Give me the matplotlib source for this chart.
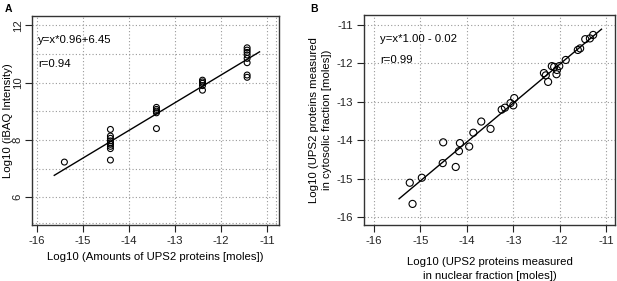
import numpy as np
import matplotlib
matplotlib.use("Agg")
import matplotlib.pyplot as plt

plt.rcParams['font.family'] = ['Liberation Sans', 'DejaVu Sans']

# ---- Panel A data ----
a_x = [-15.4,
       -14.4, -14.4, -14.4, -14.4, -14.4, -14.4, -14.4, -14.4, -14.4,
       -13.4, -13.4, -13.4, -13.4, -13.4,
       -12.4, -12.4, -12.4, -12.4, -12.4,
       -11.43, -11.43, -11.43, -11.43, -11.43, -11.43, -11.43, -11.43]
a_y = [7.23,
       8.37, 8.14, 8.06, 7.97, 7.90, 7.85, 7.78, 7.70, 7.30,
       9.14, 9.07, 9.01, 8.95, 8.40,
       10.09, 10.03, 9.98, 9.90, 9.74,
       11.22, 11.14, 11.06, 10.97, 10.85, 10.70, 10.27, 10.19]
a_line_range = [-15.62, -11.16]
a_xticks = [-16, -15, -14, -13, -12, -11]
a_yticks = [6, 8, 10, 12]
a_ygrid = [6, 7, 8, 9, 10, 11, 12]
a_eq = "y=x*0.96+6.45"
a_r = "r=0.94"

# ---- Panel B data ----
b_x = [-15.23, -15.17, -14.97, -14.52, -14.51, -14.24, -14.17, -14.15, -13.95,
       -13.86, -13.69, -13.49, -13.25, -13.18, -13.06, -13.00, -12.98, -12.34,
       -12.30, -12.25, -12.17, -12.12, -12.06, -12.07, -12.01, -11.87, -11.61,
       -11.56, -11.45, -11.35, -11.28]
b_y = [-15.10, -15.65, -14.97, -14.59, -14.05, -14.69, -14.28, -14.07, -14.16,
       -13.80, -13.51, -13.70, -13.20, -13.15, -13.03, -13.09, -12.90, -12.25,
       -12.31, -12.48, -12.07, -12.09, -12.17, -12.28, -12.07, -11.91, -11.65,
       -11.61, -11.37, -11.35, -11.26]
b_line_range = [-15.46, -11.10]
b_xticks = [-16, -15, -14, -13, -12, -11]
b_yticks = [-16, -15, -14, -13, -12, -11]
b_eq = "y=x*1.00 - 0.02"
b_r = "r=0.99"

fig = plt.figure(figsize=(6.17, 2.81), dpi=100)

grid_kw = dict(color='#999999', linestyle=(0, (1, 2)), linewidth=0.8, zorder=1)
fs = 8.2


def style(ax):
    for s in ax.spines.values():
        s.set_linewidth(1.0)
        s.set_color('#333333')
    ax.tick_params(direction='out', length=5, width=0.8, labelsize=fs, colors='#222222', pad=3)


def fitline(ax, x, y, rng):
    k, b = np.polyfit(x, y, 1)
    xs = np.array(rng)
    ax.plot(xs, k * xs + b, color='black', linewidth=1.0, zorder=3)


# Panel A
axA = fig.add_axes([0.0514, 0.199, 0.4006, 0.744])
axA.set_xlim(-16.11, -10.74)
axA.set_ylim(5.03, 12.33)
for v in a_xticks:
    axA.axvline(v, **grid_kw)
for v in a_ygrid:
    axA.axhline(v, **grid_kw)
axA.axhline(5.11, **grid_kw)
axA.axvline(-10.81, **grid_kw)
axA.scatter(a_x, a_y, s=18, facecolors='none', edgecolors='black', linewidths=0.8, zorder=4)
fitline(axA, a_x, a_y, a_line_range)
axA.set_xticks(a_xticks)
axA.set_yticks(a_yticks)
axA.set_xticklabels([str(t) for t in a_xticks])
axA.set_yticklabels([str(t) for t in a_yticks], rotation=90, va='center')
style(axA)
axA.tick_params(axis='y', pad=1.5)
axA.set_xlabel("Log10 (Amounts of UPS2 proteins [moles])", fontsize=fs, labelpad=4)
axA.set_ylabel("Log10 (iBAQ Intensity)", fontsize=fs, va='center')
axA.yaxis.set_label_coords(-0.097, 0.5)
axA.text(0.025, 0.885, a_eq, transform=axA.transAxes, fontsize=fs, va='center', ha='left')
axA.text(0.025, 0.77, a_r, transform=axA.transAxes, fontsize=fs, va='center', ha='left')
fig.text(0.008, 0.985, "A", fontsize=7.5, fontweight='bold', va='top', ha='left')

# Panel B
axB = fig.add_axes([0.590, 0.199, 0.407, 0.7465])
axB.set_xlim(-16.215, -10.806)
axB.set_ylim(-16.20, -10.75)
for v in b_xticks:
    axB.axvline(v, **grid_kw)
for v in b_yticks:
    axB.axhline(v, **grid_kw)
axB.scatter(b_x, b_y, s=26, facecolors='none', edgecolors='black', linewidths=0.8, zorder=4)
fitline(axB, b_x, b_y, b_line_range)
axB.set_xticks(b_xticks)
axB.set_yticks(b_yticks)
axB.set_xticklabels([str(t) for t in b_xticks])
axB.set_yticklabels([str(t) for t in b_yticks])
style(axB)
axB.set_xlabel("Log10 (UPS2 proteins measured\nin nuclear fraction [moles])", fontsize=fs,
               labelpad=8, linespacing=1.5)
axB.set_ylabel("Log10 (UPS2 proteins measured\nin cytosolic fraction [moles])", fontsize=fs,
               labelpad=3, linespacing=1.35)
axB.text(0.065, 0.885, b_eq, transform=axB.transAxes, fontsize=fs, va='center', ha='left')
axB.text(0.065, 0.785, b_r, transform=axB.transAxes, fontsize=fs, va='center', ha='left')
fig.text(0.503, 0.985, "B", fontsize=7.5, fontweight='bold', va='top', ha='left')

fig.savefig("out.png", dpi=100)
